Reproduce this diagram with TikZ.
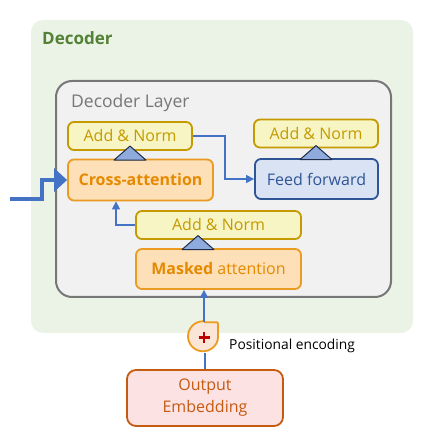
\documentclass[tikz,border=0pt]{standalone}
\usepackage{fontspec}
\setmainfont{Open Sans}
\usetikzlibrary{calc, arrows.meta}
\definecolor{DecoderBg}{HTML}{EBF3E6}
\definecolor{DecoderText}{HTML}{538135}
\definecolor{LayerFill}{HTML}{F1F1F1}
\definecolor{LayerLine}{HTML}{777777}
\definecolor{NormFill}{HTML}{F7F5C4}
\definecolor{NormLine}{HTML}{C49A00}
\definecolor{AttnFill}{HTML}{FDDFB8}
\definecolor{AttnLine}{HTML}{EB9B1F}
\definecolor{AttnText}{HTML}{E58A00}
\definecolor{FfwdFill}{HTML}{DAE3F3}
\definecolor{FfwdLine}{HTML}{2F5597}
\definecolor{EmbFill}{HTML}{FDE2E3}
\definecolor{EmbLine}{HTML}{C55A11}
\definecolor{TriFill}{HTML}{8FAADC}
\definecolor{TriLine}{HTML}{1F2D4A}
\definecolor{LinkBlue}{HTML}{4472C4}
\definecolor{PlusFill}{HTML}{FBE5D6}
\definecolor{PlusRed}{HTML}{C00000}
\tikzset{
    block/.style={
        draw, line width=1.8pt, rounded corners=6pt, inner sep=0pt,
        font=\fontsize{16}{18}\selectfont
    },
    addnorm/.style={block, draw=NormLine, fill=NormFill, text=NormLine, minimum height=28pt},
    attn/.style={block, draw=AttnLine, fill=AttnFill, text=AttnText, minimum height=41pt},
    link/.style={draw=LinkBlue, line width=1.5pt, -{Triangle[length=8pt, width=8pt]}},
    normtri/.pic={
        \draw[fill=TriFill, draw=TriLine, line width=1pt, line join=round]
            (-16pt,0) -- (16pt,0) -- (0,14pt) -- cycle;
    }
}

\begin{document}
\begin{tikzpicture}[x=1pt, y=1pt]
\useasboundingbox (0,0) rectangle (428,444);

\fill[DecoderBg, rounded corners=12pt] (31,111) rectangle (413,424);
\node[anchor=west, inner sep=0pt, text=DecoderText, font=\fontsize{17}{19}\selectfont\bfseries]
    (dectitle) at (42,406) {Decoder};

\draw[rounded corners=16pt, draw=LayerLine, fill=LayerFill, line width=2pt]
    (56,147) rectangle (391,363);
\node[anchor=west, inner sep=0pt, text=LayerLine, font=\fontsize{17.5}{19}\selectfont]
    (laytitle) at (71,341) {Decoder Layer};

% blocks of the layer
\node[addnorm, minimum width=124pt] (addA) at (130,308) {Add \& Norm};
\node[addnorm, minimum width=124pt] (addB) at (316,310.5) {Add \& Norm};
\node[attn, minimum width=145pt, font=\fontsize{16}{18}\selectfont\bfseries] (cross) at (140.5,264) {Cross-attention};
\node[block, draw=FfwdLine, fill=FfwdFill, text=FfwdLine, minimum width=123pt, minimum height=40pt]
    (ffwd) at (316.5,265) {Feed forward};
\node[addnorm, minimum width=165pt] (addC) at (218.5,219) {Add \& Norm};
\node[attn, minimum width=165pt, minimum height=40pt] (masked) at (218.5,175) {\textbf{Masked} attention};

\pic at ([yshift=-1.5pt]addA.south |- cross.north) {normtri};
\pic at ([yshift=-1.5pt]addB.south |- ffwd.north) {normtri};
\pic at ([xshift=-20.5pt, yshift=-1.5pt]addC.south |- masked.north) {normtri};

% input from the encoder
\coordinate (enc) at (10,245);
\draw[draw=LinkBlue, line width=4pt, -{Triangle[length=13pt, width=23pt]}]
    (enc) -- ++(32,0) |- (cross.west);

\draw[link] (addA.east) -- ++(32,0) |- (ffwd.west);
\draw[link] (addC.west) -| ($(cross.south)+(-24.5,0)$);

% positional encoding
\node[minimum size=30pt, inner sep=0pt] (plus) at (204,106.5) {};
\draw[draw=AttnLine, fill=PlusFill, line width=1.8pt, rounded corners=1pt]
    (plus.north) -- ++(14,0) -- ++(0,-14) arc[start angle=0, end angle=-270, radius=15pt];
\draw[PlusRed, line width=2.5pt] ([xshift=-5.5pt]plus.center) -- ([xshift=5.5pt]plus.center)
    ([yshift=-5.5pt]plus.center) -- ([yshift=5.5pt]plus.center);
\node[anchor=west, inner sep=0pt, font=\fontsize{13.8}{15}\selectfont] (posenc) at (229,98) {Positional encoding};

\node[block, draw=EmbLine, fill=EmbFill, text=EmbLine, minimum width=156pt, minimum height=56pt,
    rounded corners=9pt, align=center, font=\fontsize{16}{22}\selectfont] (embed) at (205,46) {Output\\Embedding};

\draw[draw=LinkBlue, line width=1.5pt] (embed.north) -- (embed.north |- plus.south);
\draw[link] (plus.north) -- (plus.north |- masked.south);

\end{tikzpicture}
\end{document}
